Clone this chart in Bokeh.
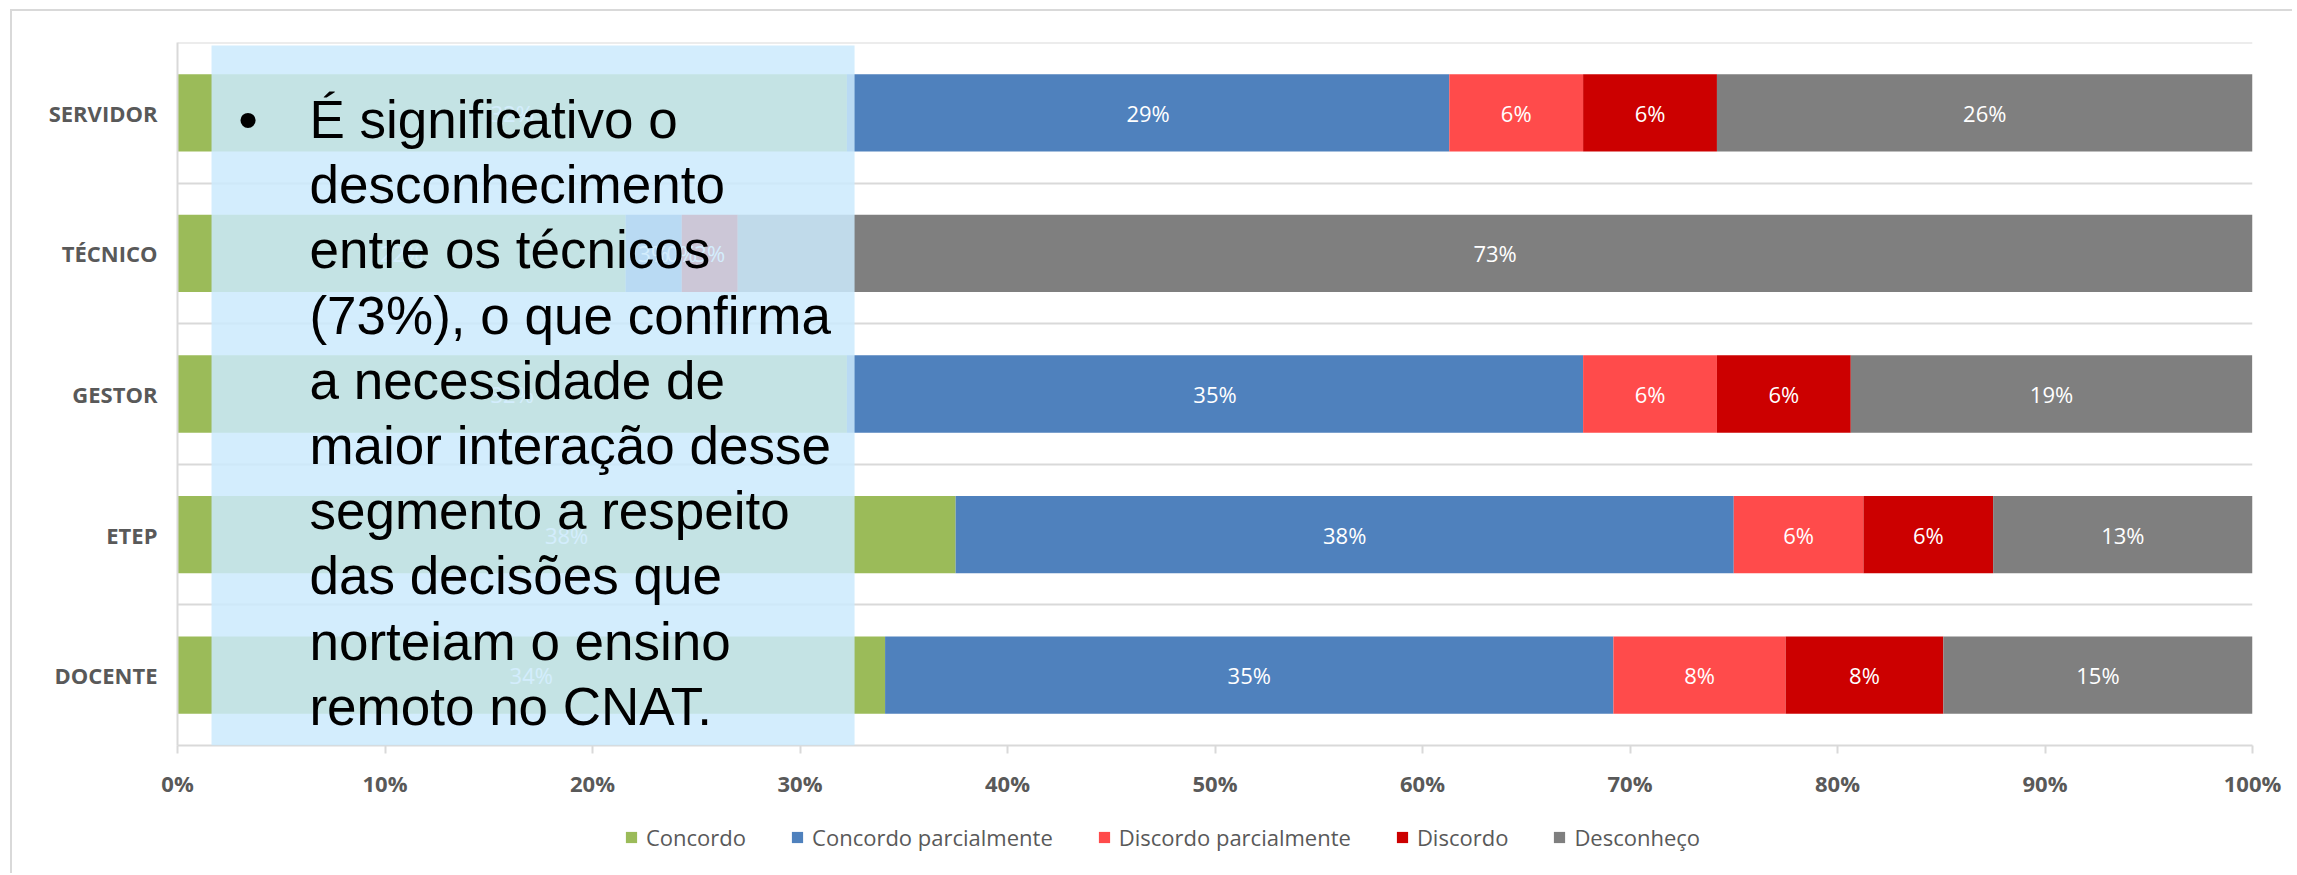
from bokeh.plotting import figure
from bokeh.layouts import column
from bokeh.models import (Range1d, ColumnDataSource, LabelSet, BoxAnnotation,
                          Label, Legend, LegendItem, FixedTicker, PrintfTickFormatter)
from bokeh.embed import file_html
from bokeh.resources import INLINE
from bokeh.core.properties import value

# ---------------- data ----------------
categories = ["SERVIDOR", "TÉCNICO", "GESTOR", "ETEP", "DOCENTE"]
series = ["Concordo", "Concordo parcialmente", "Discordo parcialmente", "Discordo", "Desconheço"]
concordo = [32.26, 21.6, 32.26, 37.5, 34.1]
concordo_parcialmente = [29.03, 2.7, 35.48, 37.5, 35.1]
discordo_parcialmente = [6.45, 0.0, 6.45, 6.25, 8.3]
discordo = [6.45, 2.7, 6.45, 6.25, 7.6]
desconheco = [25.81, 73.0, 19.35, 12.5, 14.9]
x_ticks = [0, 10, 20, 30, 40, 50, 60, 70, 80, 90, 100]
colors = ["#9BBB59", "#4F81BD", "#FF4B4B", "#CC0000", "#7F7F7F"]

note_lines = [
    "É significativo o",
    "desconhecimento",
    "entre os técnicos",
    "(73%), o que confirma",
    "a necessidade de",
    "maior interação desse",
    "segmento a respeito",
    "das decisões que",
    "norteiam o ensino",
    "remoto no CNAT.",
]

values = [concordo, concordo_parcialmente, discordo_parcialmente, discordo, desconheco]

# ---------------- layout ----------------
FRAME_W, FRAME_H = 2075, 703
B_LEFT, B_RIGHT, B_TOP, B_BOTTOM = 165, 40, 31, 60
TOTAL_W = B_LEFT + FRAME_W + B_RIGHT
LEG_H = 68
N = len(categories)
ypos = [N - i - 0.5 for i in range(N)]   # first category at the top

p = figure(frame_width=FRAME_W, frame_height=FRAME_H,
           y_range=Range1d(0, N), x_range=Range1d(0, 100),
           output_backend="svg", toolbar_location=None,
           min_border_left=B_LEFT, min_border_right=B_RIGHT,
           min_border_top=B_TOP, min_border_bottom=B_BOTTOM)
p.extra_y_ranges = {"px": Range1d(start=FRAME_H, end=0)}
p.outline_line_color = None
p.background_fill_color = "white"
p.border_fill_color = "white"
p.xgrid.grid_line_color = None
p.ygrid.grid_line_color = None

# category separators
p.hspan(y=list(range(1, N + 1)), line_color="#D9D9D9", line_width=2)

data = {"y": ypos}
for name, vals in zip(series, values):
    data[name] = vals
source = ColumnDataSource(data)

renderers = p.hbar_stack(series, y="y", height=0.55, color=colors, line_color=None, source=source)

# segment labels
lx, ly, lt = [], [], []
for i in range(N):
    left = 0.0
    for vals in values:
        v = vals[i]
        lx.append(left + v / 2.0)
        ly.append(ypos[i])
        lt.append(f"{int(v + 0.5)}%")
        left += v
lab_src = ColumnDataSource(dict(x=lx, y=ly, t=lt))
p.add_layout(LabelSet(x="x", y="y", text="t", source=lab_src, text_color="white",
                      text_font=value("Open Sans"), text_font_size="22px",
                      text_align="center", text_baseline="middle"))

# axes
xa = p.xaxis[0]
xa.ticker = FixedTicker(ticks=x_ticks)
xa.formatter = PrintfTickFormatter(format="%d%%")
xa.axis_line_color = "#D9D9D9"
xa.axis_line_width = 2
xa.major_tick_line_color = "#D9D9D9"
xa.major_tick_line_width = 2
xa.major_tick_out = 8
xa.major_tick_in = 0
xa.minor_tick_line_color = None
xa.major_label_text_font = "Open Sans"
xa.major_label_text_font_style = "bold"
xa.major_label_text_font_size = "22px"
xa.major_label_text_color = "#595959"
xa.major_label_standoff = 14

ya = p.yaxis[0]
ya.ticker = FixedTicker(ticks=ypos)
ya.major_label_overrides = {y: c for y, c in zip(ypos, categories)}
ya.axis_line_color = "#D9D9D9"
ya.axis_line_width = 2
ya.major_tick_line_color = None
ya.minor_tick_line_color = None
ya.major_label_text_font = "Open Sans"
ya.major_label_text_font_style = "bold"
ya.major_label_text_font_size = "22px"
ya.major_label_text_color = "#595959"
ya.major_label_standoff = 14

# text box overlay
NOTE_LEFT, NOTE_RIGHT = 1.64, 32.63
p.add_layout(BoxAnnotation(left=NOTE_LEFT, right=NOTE_RIGHT, top=3, bottom=FRAME_H,
                           y_range_name="px", fill_color="#CBEAFD", fill_alpha=0.85,
                           line_color=None, line_alpha=0))
BULLET_X, TEXT_X = 3.4, 6.36
LINE0, LINE_STEP = 77, 65.2
p.add_layout(Label(x=BULLET_X, y=LINE0, y_range_name="px", text="•", text_align="center",
                   text_baseline="alphabetic", text_font="Liberation Sans",
                   text_font_size="56px", text_color="black"))
for k, line in enumerate(note_lines):
    p.add_layout(Label(x=TEXT_X, y=LINE0 + k * LINE_STEP, y_range_name="px", text=line,
                       text_align="left", text_baseline="alphabetic",
                       text_font="Liberation Sans", text_font_size="53px",
                       text_color="black"))

# ---------------- legend strip ----------------
# the strip's view ranges lie away from the data, so its bars only serve as legend swatches
p2 = figure(width=TOTAL_W, height=LEG_H, x_range=Range1d(-300, -200), y_range=Range1d(100, 101),
            output_backend="svg", toolbar_location=None,
            min_border_left=0, min_border_right=0, min_border_top=0, min_border_bottom=0)
p2.xaxis.visible = False
p2.yaxis.visible = False
p2.grid.visible = False
p2.outline_line_color = None
p2.background_fill_color = "white"
p2.border_fill_color = "white"
leg_renderers = [p2.hbar(y="y", right=name, height=0.55, source=source,
                         fill_color=c, line_color=None)
                 for name, c in zip(series, colors)]
legend = Legend(items=[LegendItem(label=s, renderers=[r]) for s, r in zip(series, leg_renderers)],
                orientation="horizontal", location=(447, 21),
                label_text_font="Open Sans", label_text_font_size="22px",
                label_text_color="#595959", glyph_width=14, glyph_height=14,
                label_standoff=8, spacing=44, border_line_color=None,
                background_fill_alpha=0, margin=0, padding=4)
p2.add_layout(legend)

layout = column(p, p2, spacing=0)
layout.styles = {"margin-left": "10px", "margin-top": "9px",
                 "border-left": "2px solid #D9D9D9", "border-top": "2px solid #D9D9D9"}

open("out.html", "w").write(file_html(layout, INLINE))
